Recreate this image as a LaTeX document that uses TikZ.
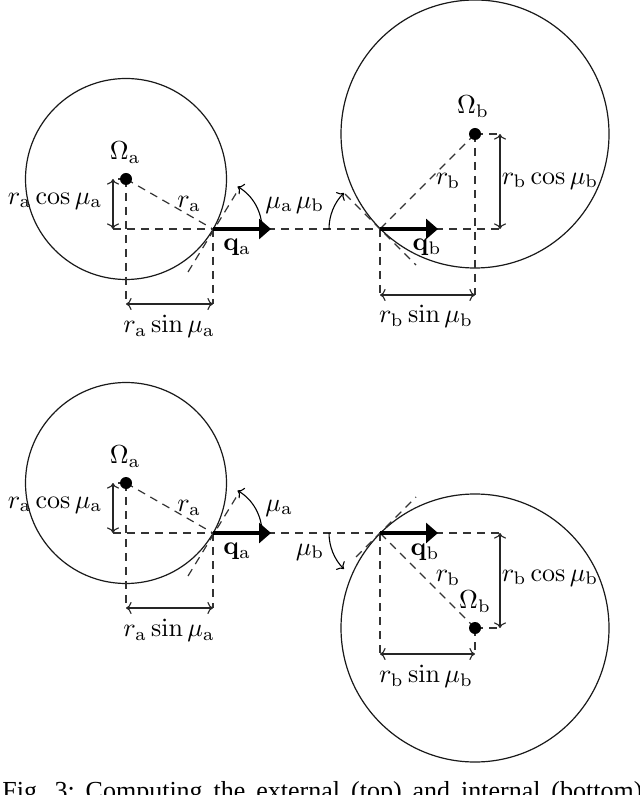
\documentclass[tikz,border=0pt]{standalone}
\usepackage[no-math]{fontspec}
\newfontfamily\capfont{Liberation Serif}
\usetikzlibrary{arrows.meta}
\tikzset{
  px/.style={x=0.5pt,y=-0.5pt},
  circ/.style={draw=black!90,line width=0.6pt},
  dsh/.style={draw=black!80,line width=0.6pt,dash pattern=on 4pt off 3pt},
  dim/.style={draw=black!85,line width=0.55pt,{To[length=2.8pt,width=6pt]}-{To[length=2.8pt,width=6pt]}},
  ang/.style={draw=black,line width=0.55pt,-{To[length=2.8pt,width=6pt]}},
  vec/.style={draw=black,line width=2pt,-{Triangle[length=6pt,width=10pt]}},
  dotn/.style={circle,fill=black,inner sep=0pt,minimum size=6pt},
  lbl/.style={inner sep=0pt,outer sep=0pt,scale=1.3}
}
\begin{document}
\begin{tikzpicture}[px]
\useasboundingbox (0,0) rectangle (640,795);
% top left
\coordinate (qa1) at (213,229);
\coordinate (oa1c) at (126,179);
\coordinate (qa1e) at (271,229);
\coordinate (la1) at (113,229);
\coordinate (ua1) at (113,179);
\coordinate (sa1) at (126,304);
\coordinate (sb1) at (213,304);
\coordinate (ta1) at (188,272);
\coordinate (tb1) at (240,187);
% top right
\coordinate (qb1) at (380,229);
\coordinate (ob1c) at (475,134);
\coordinate (qb1e) at (438,229);
\coordinate (rb1) at (500,229);
\coordinate (ub1) at (500,134);
\coordinate (sc1) at (380,295);
\coordinate (sd1) at (475,295);
\coordinate (tc1) at (345,194);
\coordinate (td1) at (416,265);
% bottom left
\coordinate (qa2) at (213,533);
\coordinate (oa2c) at (126,483);
\coordinate (qa2e) at (271,533);
\coordinate (la2) at (113,533);
\coordinate (ua2) at (113,483);
\coordinate (sa2) at (126,608);
\coordinate (sb2) at (213,608);
\coordinate (ta2) at (188,576);
\coordinate (tb2) at (240,491);
% bottom right
\coordinate (qb2) at (380,533);
\coordinate (ob2c) at (475,628);
\coordinate (qb2e) at (438,533);
\coordinate (rb2) at (500,533);
\coordinate (ub2) at (500,628);
\coordinate (sc2) at (380,654);
\coordinate (sd2) at (475,654);
\coordinate (tc2) at (356,557);
\coordinate (td2) at (416,497);
% circles
\draw[circ] (oa1c) circle[radius=100.5];
\draw[circ] (ob1c) circle[radius=134];
\draw[circ] (oa2c) circle[radius=100.5];
\draw[circ] (ob2c) circle[radius=134];
% dashed, top
\draw[dsh] (la1) -- (rb1);
\draw[dsh] (oa1c) -- (qa1);
\draw[dsh] (oa1c) -- (sa1);
\draw[dsh] (qa1) -- (sb1);
\draw[dsh] (ta1) -- (tb1);
\draw[dsh] (ob1c) -- (qb1);
\draw[dsh] (ob1c) -- (sd1);
\draw[dsh] (qb1) -- (sc1);
\draw[dsh] (tc1) -- (td1);
\draw[dsh] (ob1c) -- (ub1);
\draw[dsh] (oa1c) -- (ua1);
% dashed, bottom
\draw[dsh] (la2) -- (rb2);
\draw[dsh] (oa2c) -- (qa2);
\draw[dsh] (oa2c) -- (sa2);
\draw[dsh] (qa2) -- (sb2);
\draw[dsh] (ta2) -- (tb2);
\draw[dsh] (ob2c) -- (qb2);
\draw[dsh] (ob2c) -- (sd2);
\draw[dsh] (qb2) -- (sc2);
\draw[dsh] (tc2) -- (td2);
\draw[dsh] (ob2c) -- (ub2);
\draw[dsh] (oa2c) -- (ua2);
% dots
\node[dotn] (oa1) at (oa1c) {};
\node[dotn] (ob1) at (ob1c) {};
\node[dotn] (oa2) at (oa2c) {};
\node[dotn] (ob2) at (ob2c) {};
% dimensions
\draw[dim] (ua1) -- (la1);
\draw[dim] (sa1) -- (sb1);
\draw[dim] (ub1) -- (rb1);
\draw[dim] (sc1) -- (sd1);
\draw[dim] (ua2) -- (la2);
\draw[dim] (sa2) -- (sb2);
\draw[dim] (rb2) -- (ub2);
\draw[dim] (sc2) -- (sd2);
% angle arcs
\draw[ang] (262,229) arc[start angle=0,end angle=-60,radius=49];
\draw[ang] (329,229) arc[start angle=180,end angle=225,radius=51];
\draw[ang] (262,533) arc[start angle=0,end angle=-60,radius=49];
\draw[ang] (329,533) arc[start angle=180,end angle=135,radius=51];
% vectors
\draw[vec] (qa1) -- (qa1e);
\draw[vec] (qb1) -- (qb1e);
\draw[vec] (qa2) -- (qa2e);
\draw[vec] (qb2) -- (qb2e);
% labels top
\node[lbl] (t1) at (125,153) {$\Omega_{\mathrm{a}}$};
\node[lbl] (t2) at (55,201) {$r_{\mathrm{a}}\cos\mu_{\mathrm{a}}$};
\node[lbl] (t3) at (189,204) {$r_{\mathrm{a}}$};
\node[lbl] (t4) at (237,247) {$\mathbf{q}_{\mathrm{a}}$};
\node[lbl] (t5) at (169,326) {$r_{\mathrm{a}}\sin\mu_{\mathrm{a}}$};
\node[lbl] (t6) at (279,205) {$\mu_{\mathrm{a}}$};
\node[lbl] (t7) at (310,205) {$\mu_{\mathrm{b}}$};
\node[lbl] (t8) at (473,107) {$\Omega_{\mathrm{b}}$};
\node[lbl] (t9) at (448,181) {$r_{\mathrm{b}}$};
\node[lbl] (t10) at (550,181) {$r_{\mathrm{b}}\cos\mu_{\mathrm{b}}$};
\node[lbl] (t11) at (427,247) {$\mathbf{q}_{\mathrm{b}}$};
\node[lbl] (t12) at (426,316) {$r_{\mathrm{b}}\sin\mu_{\mathrm{b}}$};
% labels bottom
\node[lbl] (b1) at (125,457) {$\Omega_{\mathrm{a}}$};
\node[lbl] (b2) at (55,505) {$r_{\mathrm{a}}\cos\mu_{\mathrm{a}}$};
\node[lbl] (b3) at (189,508) {$r_{\mathrm{a}}$};
\node[lbl] (b4) at (237,551) {$\mathbf{q}_{\mathrm{a}}$};
\node[lbl] (b5) at (169,630) {$r_{\mathrm{a}}\sin\mu_{\mathrm{a}}$};
\node[lbl] (b6) at (279,508) {$\mu_{\mathrm{a}}$};
\node[lbl] (b7) at (310,552) {$\mu_{\mathrm{b}}$};
\node[lbl] (b8) at (475,602) {$\Omega_{\mathrm{b}}$};
\node[lbl] (b9) at (448,578) {$r_{\mathrm{b}}$};
\node[lbl] (b10) at (550,578) {$r_{\mathrm{b}}\cos\mu_{\mathrm{b}}$};
\node[lbl] (b11) at (425,552) {$\mathbf{q}_{\mathrm{b}}$};
\node[lbl] (b12) at (426,676) {$r_{\mathrm{b}}\sin\mu_{\mathrm{b}}$};
% caption
\node[inner sep=0pt,anchor=base west] (cap) at (2,799) {\capfont\fontsize{13}{15}\selectfont\makebox[320pt][s]{Fig.\ 3:\ Computing\ the\ external\ (top)\ and\ internal\ (bottom)}};
\end{tikzpicture}
\end{document}
